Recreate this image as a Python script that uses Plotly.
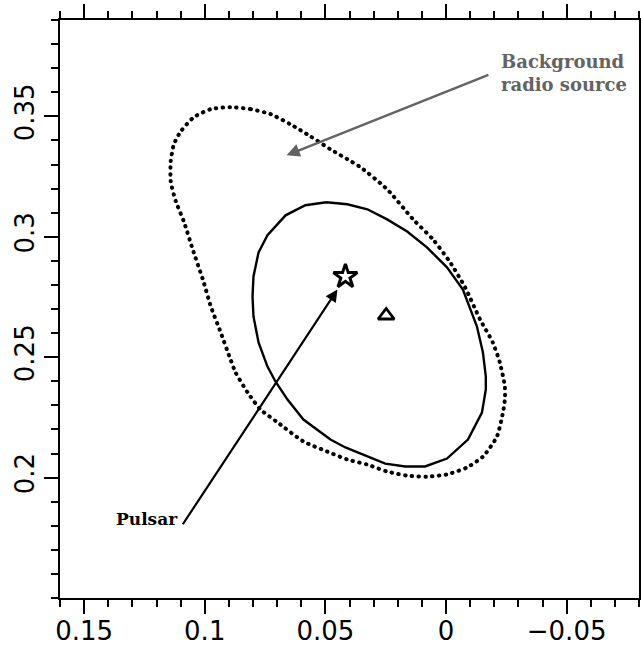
import plotly.graph_objects as go

# Outer (dotted) contour of the background radio source
outer_x = [0.0893, 0.0810, 0.0727, 0.0645, 0.0562, 0.0479, 0.0409, 0.0355, 0.0244, 0.0136,
           0.0054, -0.0017, -0.0079, -0.0141, -0.0194, -0.0223, -0.0244, -0.0244, -0.0236,
           -0.0211, -0.0153, -0.0087, -0.0004, 0.0079, 0.0161, 0.0244, 0.0326, 0.0409,
           0.0492, 0.0591, 0.0698, 0.0769, 0.0822, 0.0872, 0.0893, 0.0934, 0.0975, 0.1008,
           0.1050, 0.1087, 0.1120, 0.1141, 0.1141, 0.1128, 0.1099, 0.1046, 0.0975, 0.0893]
outer_y = [0.3538, 0.3530, 0.3509, 0.3467, 0.3417, 0.3363, 0.3322, 0.3289, 0.3197, 0.3072,
           0.2989, 0.2894, 0.2790, 0.2657, 0.2561, 0.2478, 0.2378, 0.2324, 0.2270,
           0.2170, 0.2087, 0.2042, 0.2013, 0.2004, 0.2008, 0.2025, 0.2054, 0.2075,
           0.2108, 0.2150, 0.2229, 0.2283, 0.2353, 0.2436, 0.2490, 0.2603, 0.2711, 0.2823,
           0.2948, 0.3064, 0.3147, 0.3230, 0.3313, 0.3384, 0.3438, 0.3496, 0.3530, 0.3538]

# Inner (solid) contour
inner_x = [0.0496, 0.0409, 0.0326, 0.0244, 0.0161, 0.0079, -0.0004, -0.0070, -0.0128,
           -0.0153, -0.0165, -0.0165, -0.0149, -0.0091, -0.0004, 0.0087, 0.0169, 0.0252,
           0.0417, 0.0479, 0.0591, 0.0657, 0.0707, 0.0740, 0.0777, 0.0798, 0.0802, 0.0798,
           0.0777, 0.0740, 0.0665, 0.0583, 0.0496]
inner_y = [0.3143, 0.3135, 0.3114, 0.3072, 0.3022, 0.2956, 0.2873, 0.2781, 0.2628,
           0.2520, 0.2420, 0.2366, 0.2270, 0.2158, 0.2079, 0.2046, 0.2046, 0.2058,
           0.2125, 0.2158, 0.2241, 0.2324, 0.2399, 0.2461, 0.2561, 0.2669, 0.2752, 0.2835,
           0.2935, 0.3006, 0.3089, 0.3131, 0.3143]

# Pulsar position (star) and radio centroid (triangle)
pulsar_pos = (0.0417, 0.2835)
centroid_pos = (0.0248, 0.2673)

# Axis ticks
x_ticks = [0.15, 0.1, 0.05, 0, -0.05]
x_ticktext = ["0.15", "0.1", "0.05", "0", "\u22120.05"]
y_ticks = [0.2, 0.25, 0.3, 0.35]
y_ticktext = ["0.2", "0.25", "0.3", "0.35"]
x_range = [0.16, -0.08]
y_range = [0.15, 0.39]

# Label anchors and arrow endpoints (data units)
pulsar_arrow = dict(tail=(0.1095, 0.1800), tip=(0.0450, 0.2781))
pulsar_label = dict(text="Pulsar", x=0.1103, y=0.1830)
bg_arrow = dict(tail=(-0.0182, 0.3675), tip=(0.0661, 0.3338))
bg_label = dict(text="Background<br>radio source", x=-0.0219, y=0.3679)

fig = go.Figure()

fig.add_trace(go.Scatter(
    x=outer_x, y=outer_y, mode="lines", name="outer",
    line=dict(color="black", width=4, dash="0.5px,6.3px", shape="spline", smoothing=0.6),
    hoverinfo="skip", showlegend=False))

fig.add_trace(go.Scatter(
    x=inner_x, y=inner_y, mode="lines",
    line=dict(color="black", width=2.4),
    hoverinfo="skip", showlegend=False))

fig.add_trace(go.Scatter(
    x=[pulsar_pos[0]], y=[pulsar_pos[1]], mode="markers",
    marker=dict(symbol="star-open", size=18, color="black", line=dict(width=3, color="black")),
    hoverinfo="skip", showlegend=False))

fig.add_trace(go.Scatter(
    x=[centroid_pos[0]], y=[centroid_pos[1]], mode="markers",
    marker=dict(symbol="triangle-up-open", size=14, color="black", line=dict(width=2.8, color="black")),
    hoverinfo="skip", showlegend=False))

label_font = "DejaVu Serif"

fig.add_annotation(
    x=pulsar_arrow["tip"][0], y=pulsar_arrow["tip"][1],
    ax=pulsar_arrow["tail"][0], ay=pulsar_arrow["tail"][1],
    xref="x", yref="y", axref="x", ayref="y",
    text="", showarrow=True, arrowhead=2, arrowsize=1.1, arrowwidth=2.2,
    arrowcolor="black", standoff=0, startstandoff=0)
fig.add_annotation(
    x=pulsar_label["x"], y=pulsar_label["y"], xref="x", yref="y",
    text="<b>" + pulsar_label["text"] + "</b>", showarrow=False,
    xanchor="right", yanchor="middle",
    font=dict(family=label_font, size=17, color="black"))

fig.add_annotation(
    x=bg_arrow["tip"][0], y=bg_arrow["tip"][1],
    ax=bg_arrow["tail"][0], ay=bg_arrow["tail"][1],
    xref="x", yref="y", axref="x", ayref="y",
    text="", showarrow=True, arrowhead=2, arrowsize=1.1, arrowwidth=2.4,
    arrowcolor="#636363", standoff=0, startstandoff=0)
fig.add_annotation(
    x=bg_label["x"], y=bg_label["y"], xref="x", yref="y",
    text="<b>" + bg_label["text"] + "</b>", showarrow=False,
    xanchor="left", yanchor="middle", align="left",
    font=dict(family=label_font, size=18, color="#636363"))

axis_common = dict(
    showline=True, linewidth=2, linecolor="black", mirror="ticks",
    ticks="outside", ticklen=14, tickwidth=2, tickcolor="black",
    showgrid=False, zeroline=False, automargin=False,
    tickfont=dict(family="DejaVu Sans", size=26, color="black"),
)

fig.update_xaxes(
    range=x_range, tickmode="array", tickvals=x_ticks, ticktext=x_ticktext,
    ticklabelstandoff=-5,
    minor=dict(dtick=0.01, tick0=0, ticks="outside", ticklen=7, tickwidth=2, tickcolor="black",
               showgrid=False),
    **axis_common)
fig.update_yaxes(
    range=y_range, tickmode="array", tickvals=y_ticks, ticktext=y_ticktext, tickangle=-90,
    minor=dict(dtick=0.01, tick0=0, ticks="outside", ticklen=7, tickwidth=2, tickcolor="black",
               showgrid=False),
    **axis_common)

fig.update_layout(
    width=641, height=647,
    margin=dict(l=60, r=2, t=20, b=49),
    paper_bgcolor="white", plot_bgcolor="white",
    showlegend=False,
)

# Round line caps turn the short dashes of the outer contour into round dots
round_dots = """
var gd = document.querySelector('.plotly-graph-div');
gd.querySelectorAll('.scatterlayer .trace:first-child path.js-line').forEach(function (p) {
    p.style.strokeLinecap = 'round';
});
"""

fig.write_html("out.html", post_script=round_dots)
